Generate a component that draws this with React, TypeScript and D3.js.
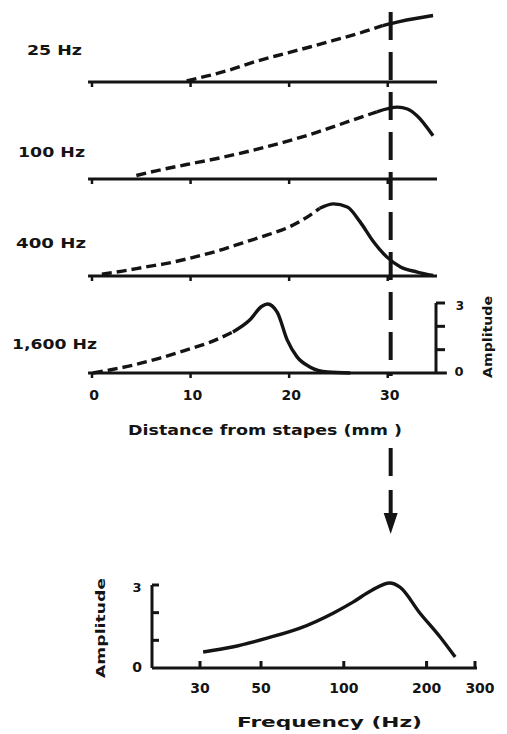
import React from "react";
import * as d3 from "d3";

// ---- data ----
const panels = ["25 Hz", "100 Hz", "400 Hz", "1,600 Hz"];
const distTicks = [0, 10, 20, 30];
const ampTicks = [0, 1, 2, 3];
const freqTicks = [30, 50, 100, 200, 300];
const characteristicPlace = 30.3; // mm

// [distance mm, amplitude]
const curve25: [number, number][] = [
  [9.6, 0.05], [11.7, 0.26], [14, 0.52], [16.3, 0.84], [19.4, 1.2], [22.1, 1.5],
  [24.5, 1.78], [27.2, 2.1], [29.5, 2.42], [31.3, 2.6], [34.6, 2.85],
];
const curve100: [number, number][] = [
  [4.5, 0.15], [6.5, 0.35], [9.6, 0.62], [12.7, 0.88], [16, 1.2], [19.4, 1.57], [22.8, 2.0],
  [26.2, 2.49], [28.9, 2.88], [31, 3.08], [32, 3.0], [33, 2.7], [34.6, 1.85],
];
const curve400: [number, number][] = [
  [1, 0.08], [3.1, 0.21], [5.6, 0.4], [7.6, 0.54], [9.6, 0.73], [12.7, 1.07], [15.3, 1.42],
  [17.8, 1.76], [20.1, 2.12], [22.1, 2.6], [23.1, 2.9], [24.5, 3.09], [25.9, 2.96],
  [27.2, 2.32], [28.5, 1.5], [29.9, 0.82], [31.3, 0.39], [33, 0.17], [34.6, 0.02],
];
const curve1600: [number, number][] = [
  [0.1, 0], [1.8, 0.13], [4.2, 0.34], [6.9, 0.64], [9.6, 0.99], [12, 1.32], [14.3, 1.76],
  [16, 2.27], [17.2, 2.85], [17.8, 2.96], [18.8, 2.6], [19.8, 1.42], [20.8, 0.69],
  [22.1, 0.26], [23.9, 0.04], [26.2, 0],
];
const curves = [curve25, curve100, curve400, curve1600];
const solidFrom = [29.5, 28.9, 23.1, 14.3];

// [frequency Hz, amplitude]
const tuning: [number, number][] = [
  [30.8, 0.58], [39.3, 0.76], [52.6, 1.08], [69.3, 1.44], [91.8, 1.99], [108, 2.38],
  [127, 2.82], [147, 3.07], [160, 2.92], [189, 1.99], [224, 1.12], [254, 0.4],
];

const INK = "#141414";
const FONT = "'DejaVu Sans', sans-serif";

export default function App() {
  const x = d3.scaleLinear().domain([0, 35]).range([92, 437]);
  const base = d3.scalePoint<string>().domain(panels).range([82, 373]);
  const amp = d3.scaleLinear().domain([0, 3]).range([0, 70]);

  const fx = d3.scaleLog().domain([30, 300]).range([200, 475]);
  const fy = d3.scaleLinear().domain([0, 3]).range([668, 585]);

  const labelPos = [
    { x: 27, w: 55, y: 50 },
    { x: 18, w: 67, y: 152 },
    { x: 16, w: 70, y: 243 },
    { x: 12, w: 85, y: 344 },
  ];

  const vx = x(characteristicPlace);
  const bottomBase = base("1,600 Hz")!;

  const tuningLine = d3
    .line<[number, number]>()
    .x((d) => fx(d[0]))
    .y((d) => fy(d[1]))
    .curve(d3.curveMonotoneX);

  return (
    <svg
      width={507}
      height={734}
      style={{ position: "absolute", left: 0, top: 0, background: "#fff" }}
      fontFamily={FONT}
      fontWeight="bold"
      fill={INK}
    >
      {/* panels */}
      {panels.map((p, i) => {
        const b = base(p)!;
        const line = d3
          .line<[number, number]>()
          .x((d) => x(d[0]))
          .y((d) => b - amp(d[1]))
          .curve(d3.curveMonotoneX);
        const data = curves[i];
        const dashed = data.filter((d) => d[0] <= solidFrom[i]);
        const solid = data.filter((d) => d[0] >= solidFrom[i]);
        const lp = labelPos[i];
        return (
          <g key={p}>
            <line x1={x(-0.4)} x2={x(i === 3 ? 36 : 35)} y1={b} y2={b} stroke={INK} strokeWidth={3} />
            {distTicks.map((t) => (
              <line key={t} x1={x(t)} x2={x(t)} y1={b} y2={b + 5} stroke={INK} strokeWidth={2.5} />
            ))}
            <path d={line(dashed) || ""} fill="none" stroke={INK} strokeWidth={3.4} strokeDasharray="10 5" />
            <path d={line(solid) || ""} fill="none" stroke={INK} strokeWidth={3.4} />
            <text
              x={lp.x}
              y={lp.y}
              dy="0.35em"
              fontSize={14}
              textLength={lp.w}
              lengthAdjust="spacingAndGlyphs"
            >
              {p}
            </text>
          </g>
        );
      })}

      {/* top amplitude bracket */}
      <line x1={436} x2={436} y1={bottomBase} y2={bottomBase - amp(3)} stroke={INK} strokeWidth={3} />
      {ampTicks.slice(1).map((t) => (
        <line key={t} x1={436} x2={445} y1={bottomBase - amp(t)} y2={bottomBase - amp(t)} stroke={INK} strokeWidth={3} />
      ))}
      <text x={460} y={bottomBase - amp(3) + 3} dy="0.35em" fontSize={12} textAnchor="middle">3</text>
      <text x={459} y={bottomBase - 2} dy="0.35em" fontSize={13} textAnchor="middle">0</text>
      <text
        transform={`translate(487,${337}) rotate(-90)`}
        fontSize={13}
        textAnchor="middle"
        dy="0.35em"
        textLength={82}
        lengthAdjust="spacingAndGlyphs"
      >
        Amplitude
      </text>

      {/* distance tick labels */}
      {distTicks.map((t) => (
        <text key={t} x={x(t) + 2} y={395} dy="0.35em" fontSize={14} textAnchor="middle">
          {t}
        </text>
      ))}
      <text x={128} y={430} dy="0.35em" fontSize={14} textLength={274} lengthAdjust="spacingAndGlyphs">
        Distance from stapes (mm )
      </text>

      {/* vertical dashed line with arrow */}
      <line x1={vx} x2={vx} y1={12} y2={376} stroke={INK} strokeWidth={4} strokeDasharray="28 12" />
      <line x1={vx} x2={vx} y1={448} y2={476} stroke={INK} strokeWidth={4} />
      <line x1={vx} x2={vx} y1={490} y2={518} stroke={INK} strokeWidth={4} />
      <path d={`M${vx - 7},${513} L${vx + 7},${513} L${vx},${534} Z`} fill={INK} />

      {/* bottom tuning curve */}
      <line x1={152} x2={152} y1={fy(0)} y2={fy(3)} stroke={INK} strokeWidth={3} />
      {ampTicks.slice(1).map((t) => (
        <line key={t} x1={152} x2={159} y1={fy(t)} y2={fy(t)} stroke={INK} strokeWidth={3} />
      ))}
      <line x1={152} x2={fx(300) + 2} y1={fy(0)} y2={fy(0)} stroke={INK} strokeWidth={3} />
      {freqTicks.map((t) => (
        <line key={t} x1={fx(t)} x2={fx(t)} y1={fy(0)} y2={fy(0) - 7} stroke={INK} strokeWidth={3} />
      ))}
      <path d={tuningLine(tuning) || ""} fill="none" stroke={INK} strokeWidth={3.4} />
      {freqTicks.map((t) => (
        <text key={t} x={fx(t) + (t === 300 ? 5 : 0)} y={688} dy="0.35em" fontSize={14} textAnchor="middle">
          {t}
        </text>
      ))}
      <text x={137} y={587} dy="0.35em" fontSize={13} textAnchor="middle">3</text>
      <text x={137} y={667} dy="0.35em" fontSize={14} textAnchor="middle">0</text>
      <text
        transform={`translate(100,${628}) rotate(-90)`}
        fontSize={13}
        textAnchor="middle"
        dy="0.35em"
        textLength={100}
        lengthAdjust="spacingAndGlyphs"
      >
        Amplitude
      </text>
      <text x={237} y={722} dy="0.35em" fontSize={14} textLength={185} lengthAdjust="spacingAndGlyphs">
        Frequency (Hz)
      </text>
    </svg>
  );
}
